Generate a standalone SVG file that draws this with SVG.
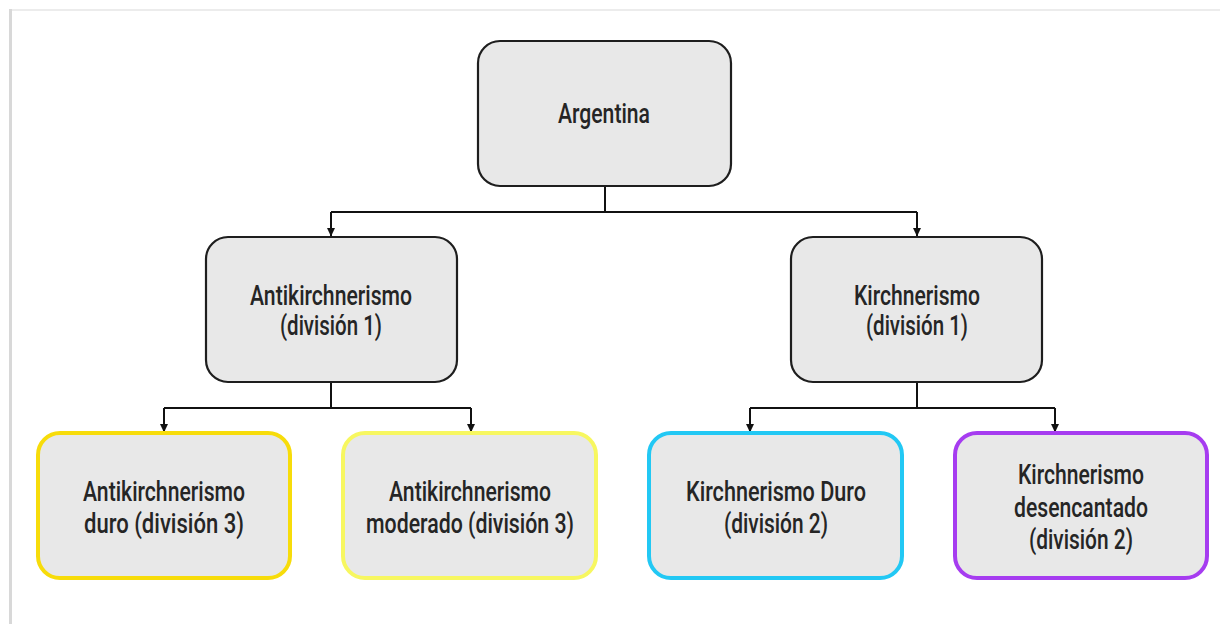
<svg xmlns="http://www.w3.org/2000/svg" width="1220" height="624" viewBox="0 0 1220 624">
<defs>
<style>
.box{fill:#e8e8e8;stroke:#1e1e1e;stroke-width:2.2}
.c1{fill:#e8e8e8;stroke:#f7dc0a;stroke-width:4}
.c2{fill:#e8e8e8;stroke:#f7f760;stroke-width:4}
.c3{fill:#e8e8e8;stroke:#22c8f4;stroke-width:4}
.c4{fill:#e8e8e8;stroke:#a63cf0;stroke-width:4}
text{font-family:Roboto,"DejaVu Sans",sans-serif;font-weight:500;font-size:27px;fill:#252525;text-anchor:middle}
.ln{fill:none;stroke:#111;stroke-width:2}
</style>
<marker id="ah" markerWidth="9" markerHeight="9" refX="8" refY="4.5" orient="auto" markerUnits="userSpaceOnUse" viewBox="0 0 9 9">
<path d="M0,0.5 L8.5,4.5 L0,8.5 Z" fill="#111"/>
</marker>
</defs>
<rect x="0" y="0" width="1220" height="624" fill="#fff"/>
<rect x="9" y="9" width="1220" height="2" fill="#ececec"/>
<rect x="9" y="9" width="3" height="620" fill="#d8d8d8"/>
<g id="connectors">
<path class="ln" d="M605,186 V212 M331,212 H917"/>
<path class="ln" d="M331,212 V236" marker-end="url(#ah)"/>
<path class="ln" d="M917,212 V236" marker-end="url(#ah)"/>
<path class="ln" d="M331,382 V408 M164,408 H471 M917,382 V408 M750,408 H1055"/>
<path class="ln" d="M164,408 V432" marker-end="url(#ah)"/>
<path class="ln" d="M471,408 V432" marker-end="url(#ah)"/>
<path class="ln" d="M750,408 V432" marker-end="url(#ah)"/>
<path class="ln" d="M1055,408 V432" marker-end="url(#ah)"/>
</g>
<g id="argentina"><rect class="box" x="478" y="41" width="253" height="145" rx="22"/><text x="604" y="123" textLength="92" lengthAdjust="spacingAndGlyphs">Argentina</text></g>
<g id="antik"><rect class="box" x="206" y="237" width="251" height="145" rx="22"/><text x="331" y="305" textLength="162" lengthAdjust="spacingAndGlyphs">Antikirchnerismo</text><text x="331" y="335" textLength="102" lengthAdjust="spacingAndGlyphs">(división 1)</text></g>
<g id="kirch"><rect class="box" x="791" y="237" width="251" height="145" rx="22"/><text x="917" y="305" textLength="126" lengthAdjust="spacingAndGlyphs">Kirchnerismo</text><text x="917" y="335" textLength="102" lengthAdjust="spacingAndGlyphs">(división 1)</text></g>
<g id="antik-duro"><rect class="c1" x="38" y="433" width="252" height="145" rx="22"/><text x="164" y="501" textLength="162" lengthAdjust="spacingAndGlyphs">Antikirchnerismo</text><text x="164" y="533" textLength="160" lengthAdjust="spacingAndGlyphs">duro (división 3)</text></g>
<g id="antik-mod"><rect class="c2" x="343" y="433" width="253" height="145" rx="22"/><text x="470" y="501" textLength="162" lengthAdjust="spacingAndGlyphs">Antikirchnerismo</text><text x="470" y="533" textLength="208" lengthAdjust="spacingAndGlyphs">moderado (división 3)</text></g>
<g id="kirch-duro"><rect class="c3" x="649" y="433" width="253" height="145" rx="22"/><text x="776" y="501" textLength="180" lengthAdjust="spacingAndGlyphs">Kirchnerismo Duro</text><text x="776" y="533" textLength="104" lengthAdjust="spacingAndGlyphs">(división 2)</text></g>
<g id="kirch-des"><rect class="c4" x="955" y="433" width="252" height="145" rx="22"/><text x="1081" y="484" textLength="126" lengthAdjust="spacingAndGlyphs">Kirchnerismo</text><text x="1081" y="517" textLength="134" lengthAdjust="spacingAndGlyphs">desencantado</text><text x="1081" y="549" textLength="104" lengthAdjust="spacingAndGlyphs">(división 2)</text></g>
</svg>
